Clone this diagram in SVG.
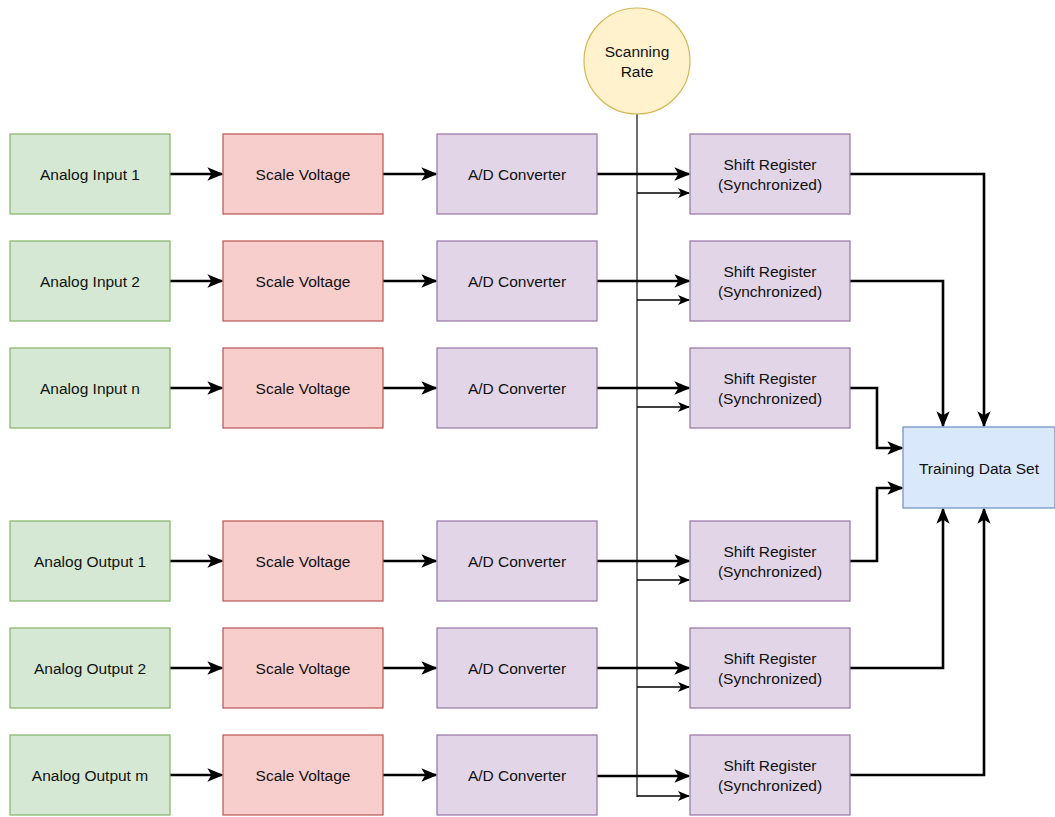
<svg xmlns="http://www.w3.org/2000/svg" width="1055" height="817" viewBox="0 0 1055 817">
  <style>
    .lbl { font-family: "Liberation Sans", Arial, sans-serif; font-size: 15.5px; fill: #111; text-anchor: middle; dominant-baseline: central; }
    .in { fill: #d5e8d4; stroke: #82b366; stroke-width: 1.2; }
    .sc { fill: #f8cecc; stroke: #b85450; stroke-width: 1.2; }
    .pu { fill: #e1d5e7; stroke: #9673a6; stroke-width: 1.2; }
    .td { fill: #dae8fc; stroke: #6c8ebf; stroke-width: 1.2; }
    .rate { fill: #fff2cc; stroke: #d6b656; stroke-width: 1.2; }
    .thick { fill: none; stroke: #000; stroke-width: 2.6; marker-end: url(#big); }
    .thin { fill: none; stroke: #000; stroke-width: 1.3; marker-end: url(#small); }
    .bus { fill: none; stroke: #222; stroke-width: 1.3; }
  </style>
  <defs>
    <marker id="big" viewBox="0 0 12 10" refX="11" refY="5" markerUnits="userSpaceOnUse" markerWidth="16" markerHeight="13.3" orient="auto">
      <path d="M0,0 L12,5 L0,10 L3,5 Z" fill="#000"/>
    </marker>
    <marker id="small" viewBox="0 0 12 10" refX="11" refY="5" markerUnits="userSpaceOnUse" markerWidth="12" markerHeight="10" orient="auto">
      <path d="M0,0 L12,5 L0,10 L3,5 Z" fill="#000"/>
    </marker>
  </defs>
  <rect width="1055" height="817" fill="#fff"/>

  <!-- connectors -->
  <g id="connectors">
    <!-- scanning rate bus -->
    <path class="bus" d="M637,114 V797"/>
    <!-- row 1 -->
    <path class="thick" d="M170,174 H222"/>
    <path class="thick" d="M383,174 H436"/>
    <path class="thick" d="M597,174 H689"/>
    <path class="thin" d="M637,193 H689"/>
    <!-- row 2 -->
    <path class="thick" d="M170,281 H222"/>
    <path class="thick" d="M383,281 H436"/>
    <path class="thick" d="M597,281 H689"/>
    <path class="thin" d="M637,300 H689"/>
    <!-- row 3 -->
    <path class="thick" d="M170,388 H222"/>
    <path class="thick" d="M383,388 H436"/>
    <path class="thick" d="M597,388 H689"/>
    <path class="thin" d="M637,407 H689"/>
    <!-- row 4 -->
    <path class="thick" d="M170,561 H222"/>
    <path class="thick" d="M383,561 H436"/>
    <path class="thick" d="M597,561 H689"/>
    <path class="thin" d="M637,580 H689"/>
    <!-- row 5 -->
    <path class="thick" d="M170,668 H222"/>
    <path class="thick" d="M383,668 H436"/>
    <path class="thick" d="M597,668 H689"/>
    <path class="thin" d="M637,687 H689"/>
    <!-- row 6 -->
    <path class="thick" d="M170,775 H222"/>
    <path class="thick" d="M383,775 H436"/>
    <path class="thick" d="M597,776 H689"/>
    <path class="thin" d="M637,796 H689"/>
    <!-- shift registers into the training data set -->
    <path class="thick" d="M850,174 H984 V426"/>
    <path class="thick" d="M850,281 H943 V426"/>
    <path class="thick" d="M850,388 H877 V448 H902"/>
    <path class="thick" d="M850,561 H877 V488 H902"/>
    <path class="thick" d="M850,668 H943 V509"/>
    <path class="thick" d="M850,775 H984 V509"/>
  </g>

  <g id="scanning-rate">
    <circle class="rate" cx="637" cy="61" r="53"/>
    <text class="lbl" x="637" y="51">Scanning</text>
    <text class="lbl" x="637" y="71">Rate</text>
  </g>

  <!-- row 1 -->
  <g id="analog-input-1"><rect class="in" x="10" y="134" width="160" height="80"/><text class="lbl" x="90" y="174">Analog Input 1</text></g>
  <g id="scale-1"><rect class="sc" x="223" y="134" width="160" height="80"/><text class="lbl" x="303" y="174">Scale Voltage</text></g>
  <g id="adc-1"><rect class="pu" x="437" y="134" width="160" height="80"/><text class="lbl" x="517" y="174">A/D Converter</text></g>
  <g id="shift-1"><rect class="pu" x="690" y="134" width="160" height="80"/><text class="lbl" x="770" y="164">Shift Register</text><text class="lbl" x="770" y="184">(Synchronized)</text></g>

  <!-- row 2 -->
  <g id="analog-input-2"><rect class="in" x="10" y="241" width="160" height="80"/><text class="lbl" x="90" y="281">Analog Input 2</text></g>
  <g id="scale-2"><rect class="sc" x="223" y="241" width="160" height="80"/><text class="lbl" x="303" y="281">Scale Voltage</text></g>
  <g id="adc-2"><rect class="pu" x="437" y="241" width="160" height="80"/><text class="lbl" x="517" y="281">A/D Converter</text></g>
  <g id="shift-2"><rect class="pu" x="690" y="241" width="160" height="80"/><text class="lbl" x="770" y="271">Shift Register</text><text class="lbl" x="770" y="291">(Synchronized)</text></g>

  <!-- row 3 -->
  <g id="analog-input-n"><rect class="in" x="10" y="348" width="160" height="80"/><text class="lbl" x="90" y="388">Analog Input n</text></g>
  <g id="scale-3"><rect class="sc" x="223" y="348" width="160" height="80"/><text class="lbl" x="303" y="388">Scale Voltage</text></g>
  <g id="adc-3"><rect class="pu" x="437" y="348" width="160" height="80"/><text class="lbl" x="517" y="388">A/D Converter</text></g>
  <g id="shift-3"><rect class="pu" x="690" y="348" width="160" height="80"/><text class="lbl" x="770" y="378">Shift Register</text><text class="lbl" x="770" y="398">(Synchronized)</text></g>

  <!-- row 4 -->
  <g id="analog-output-1"><rect class="in" x="10" y="521" width="160" height="80"/><text class="lbl" x="90" y="561">Analog Output 1</text></g>
  <g id="scale-4"><rect class="sc" x="223" y="521" width="160" height="80"/><text class="lbl" x="303" y="561">Scale Voltage</text></g>
  <g id="adc-4"><rect class="pu" x="437" y="521" width="160" height="80"/><text class="lbl" x="517" y="561">A/D Converter</text></g>
  <g id="shift-4"><rect class="pu" x="690" y="521" width="160" height="80"/><text class="lbl" x="770" y="551">Shift Register</text><text class="lbl" x="770" y="571">(Synchronized)</text></g>

  <!-- row 5 -->
  <g id="analog-output-2"><rect class="in" x="10" y="628" width="160" height="80"/><text class="lbl" x="90" y="668">Analog Output 2</text></g>
  <g id="scale-5"><rect class="sc" x="223" y="628" width="160" height="80"/><text class="lbl" x="303" y="668">Scale Voltage</text></g>
  <g id="adc-5"><rect class="pu" x="437" y="628" width="160" height="80"/><text class="lbl" x="517" y="668">A/D Converter</text></g>
  <g id="shift-5"><rect class="pu" x="690" y="628" width="160" height="80"/><text class="lbl" x="770" y="658">Shift Register</text><text class="lbl" x="770" y="678">(Synchronized)</text></g>

  <!-- row 6 -->
  <g id="analog-output-m"><rect class="in" x="10" y="735" width="160" height="80"/><text class="lbl" x="90" y="775">Analog Output m</text></g>
  <g id="scale-6"><rect class="sc" x="223" y="735" width="160" height="80"/><text class="lbl" x="303" y="775">Scale Voltage</text></g>
  <g id="adc-6"><rect class="pu" x="437" y="735" width="160" height="80"/><text class="lbl" x="517" y="775">A/D Converter</text></g>
  <g id="shift-6"><rect class="pu" x="690" y="735" width="160" height="80"/><text class="lbl" x="770" y="765">Shift Register</text><text class="lbl" x="770" y="785">(Synchronized)</text></g>

  <g id="training-data-set">
    <rect class="td" x="903" y="427" width="152" height="81"/>
    <text class="lbl" x="979" y="468">Training Data Set</text>
  </g>
</svg>
